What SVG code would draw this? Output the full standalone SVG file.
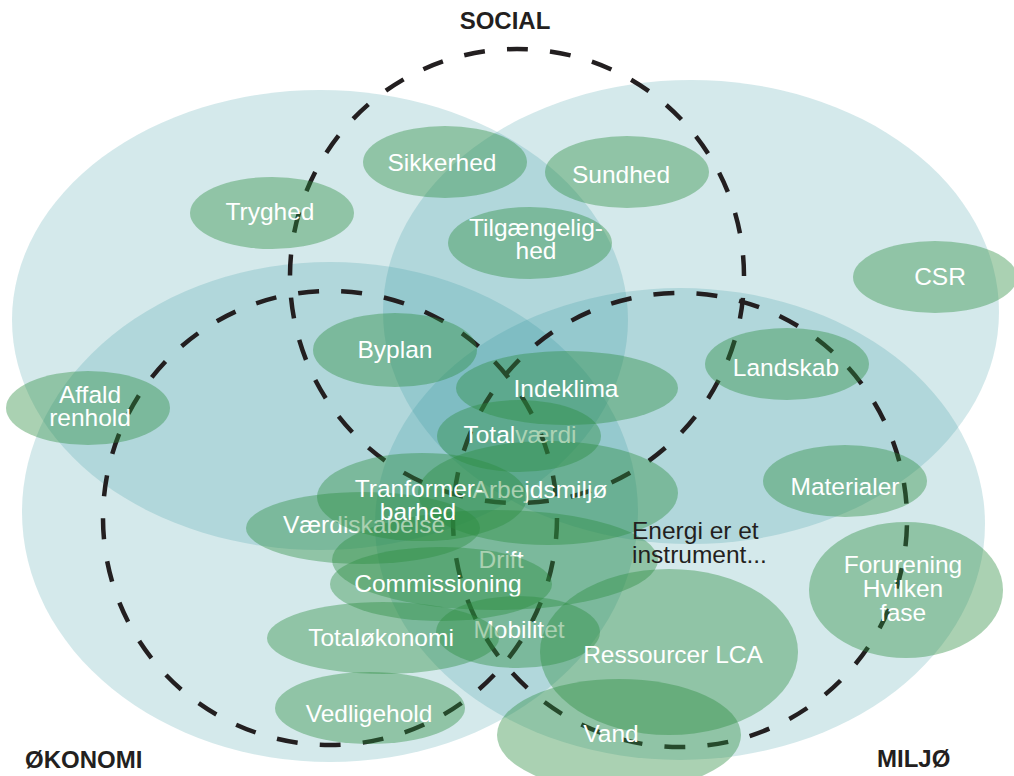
<svg xmlns="http://www.w3.org/2000/svg" width="1014" height="776" viewBox="0 0 1014 776">
<style>
.big{fill:#2a8f9a;fill-opacity:0.2}
.dash{fill:none;stroke:#231f20;stroke-width:4.5;stroke-dasharray:21 22.22}
.node{fill:#2a8c3e;fill-opacity:0.4}
.lbl{font-family:"Liberation Sans",Arial,Helvetica,sans-serif;font-size:24.5px;fill:#ffffff;text-anchor:middle}
.fade{fill:#acd3b4}
.dark{font-family:"Liberation Sans",Arial,Helvetica,sans-serif;font-size:24.5px;fill:#231f20}
.title{font-family:"Liberation Sans",Arial,Helvetica,sans-serif;font-size:24px;font-weight:bold;fill:#231f20}
</style>
<rect width="1014" height="776" fill="#ffffff"/>
<g id="areas">
<ellipse class="big" cx="320" cy="320" rx="308" ry="230"/>
<ellipse class="big" cx="691" cy="312" rx="308" ry="232"/>
<ellipse class="big" cx="330" cy="512" rx="308" ry="250"/>
<ellipse class="big" cx="680" cy="524" rx="305" ry="236"/>
</g>
<g id="dashed-circles">
<circle class="dash" cx="517" cy="276" r="227" stroke-dashoffset="21.3"/>
<circle class="dash" cx="330" cy="518" r="227"/>
<circle class="dash" cx="680" cy="520" r="227" stroke-dashoffset="-5.3"/>
</g>
<g id="titles">
<text class="title" x="505" y="29" text-anchor="middle">SOCIAL</text>
<text class="title" x="25" y="768">ØKONOMI</text>
<text class="title" x="877" y="767">MILJØ</text>
</g>
<g id="n-tryghed"><ellipse class="node" cx="272" cy="213" rx="82" ry="36"/><text class="lbl" x="270" y="220">Tryghed</text></g>
<g id="n-sikkerhed"><ellipse class="node" cx="445" cy="162" rx="82" ry="36"/><text class="lbl" x="442" y="171">Sikkerhed</text></g>
<g id="n-sundhed"><ellipse class="node" cx="627" cy="172" rx="82" ry="36"/><text class="lbl" x="621" y="183">Sundhed</text></g>
<g id="n-tilgaengelighed"><ellipse class="node" cx="530" cy="243" rx="82" ry="36"/><text class="lbl" x="536" y="236">Tilgængelig-</text><text class="lbl" x="536" y="259">hed</text></g>
<g id="n-csr"><ellipse class="node" cx="935" cy="277" rx="82" ry="36"/><text class="lbl" x="940" y="285">CSR</text></g>
<g id="n-byplan"><ellipse class="node" cx="395" cy="350" rx="82" ry="37"/><text class="lbl" x="395" y="358">Byplan</text></g>
<g id="n-landskab"><ellipse class="node" cx="787" cy="364" rx="82" ry="36"/><text class="lbl" x="786" y="376">Landskab</text></g>
<g id="n-affald"><ellipse class="node" cx="88" cy="408" rx="82" ry="37"/><text class="lbl" x="90" y="403">Affald</text><text class="lbl" x="90" y="426">renhold</text></g>
<g id="n-materialer"><ellipse class="node" cx="845" cy="481" rx="82" ry="36"/><text class="lbl" x="845" y="495">Materialer</text></g>
<g id="n-forurening"><ellipse class="node" cx="906" cy="590" rx="97" ry="68"/><text class="lbl" x="903" y="573">Forurening</text><text class="lbl" x="903" y="597">Hvilken</text><text class="lbl" x="903" y="621">fase</text></g>
<g id="n-vedligehold"><ellipse class="node" cx="370" cy="708" rx="95" ry="36"/><text class="lbl" x="369" y="722">Vedligehold</text></g>
<g id="n-indeklima"><ellipse class="node" cx="567" cy="388" rx="111" ry="37"/><text class="lbl" x="566" y="397">Indeklima</text></g>
<g id="n-drift"><ellipse class="node" cx="495" cy="560" rx="163" ry="50"/><text class="lbl" x="501" y="568">Drift</text></g>
<g id="n-arbejdsmiljo"><ellipse class="node" cx="548" cy="493" rx="130" ry="52"/><text class="lbl" x="540" y="498">Arbejdsmiljø</text></g>
<g id="n-totalvaerdi"><ellipse class="node" cx="519" cy="436" rx="82" ry="36"/><text class="lbl" x="520" y="443">Total<tspan class="fade">værdi</tspan></text></g>
<g id="n-vaerdiskabelse"><ellipse class="node" cx="363" cy="528" rx="117" ry="36"/><text class="lbl" x="364" y="533">Værdiskabelse</text></g>
<g id="n-tranformerbarhed"><ellipse class="node" cx="422" cy="497" rx="105" ry="44"/><text class="lbl" x="419" y="497">Tranformer-</text><text class="lbl" x="418" y="520">barhed</text></g>
<g id="n-commissioning"><ellipse class="node" cx="441" cy="584" rx="111" ry="37"/><text class="lbl" x="438" y="592">Commissioning</text></g>
<g id="n-mobilitet"><ellipse class="node" cx="518" cy="632" rx="82" ry="36"/><text class="lbl" x="519" y="638">Mobilitet</text></g>
<g id="n-totaløkonomi"><ellipse class="node" cx="383" cy="638" rx="116" ry="36"/><text class="lbl" x="381" y="646">Totaløkonomi</text></g>
<g id="n-ressourcer"><ellipse class="node" cx="669" cy="652" rx="129" ry="83"/><text class="lbl" x="673" y="663">Ressourcer LCA</text></g>
<g id="n-vand"><ellipse class="node" cx="619" cy="735" rx="122" ry="56"/><text class="lbl" x="611" y="742">Vand</text></g>
<g id="note"><text class="dark" x="632" y="539">Energi er et</text><text class="dark" x="632" y="563">instrument...</text></g>
</svg>
